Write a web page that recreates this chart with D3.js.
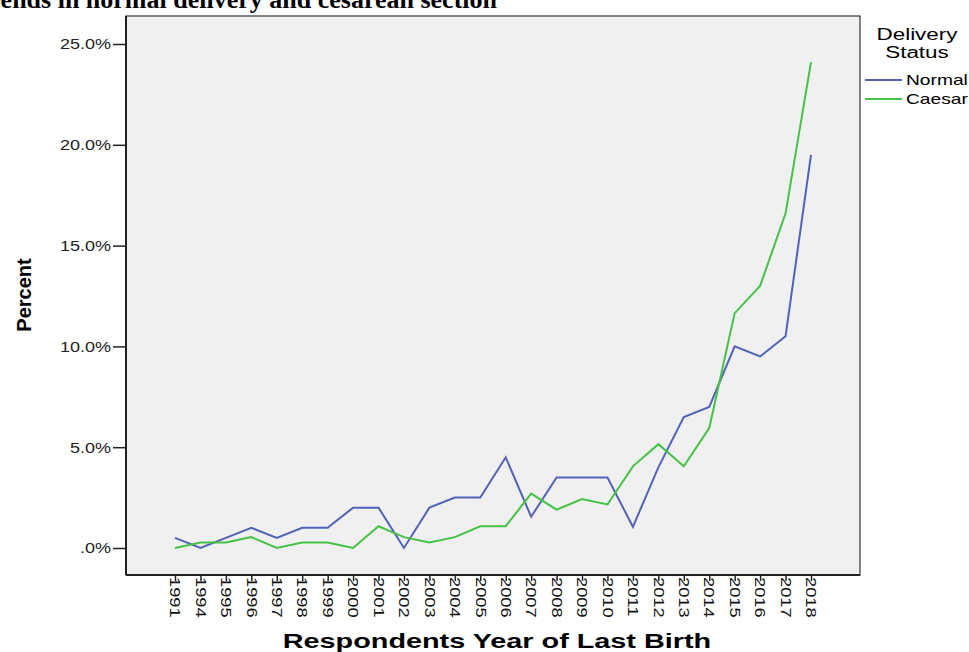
<!DOCTYPE html>
<html>
<head>
<meta charset="utf-8">
<script src="https://cdn.jsdelivr.net/npm/d3@7"></script>
<style>
  body { margin: 0; background: #fff; overflow: hidden; }
  svg { display: block; }
</style>
</head>
<body>
<div id="chart"></div>
<script>
// 데이터
const years = ["1991", "1994", "1995", "1996", "1997", "1998", "1999", "2000", "2001", "2002",
  "2003", "2004", "2005", "2006", "2007", "2008", "2009", "2010", "2011", "2012",
  "2013", "2014", "2015", "2016", "2017", "2018"];
const normal = [0.5, 0.0, 0.5, 1.0, 0.5, 1.0, 1.0, 2.0, 2.0, 0.0,
  2.0, 2.5, 2.5, 4.5, 1.55, 3.5, 3.5, 3.5, 1.05, 4.0,
  6.5, 7.0, 10.0, 9.5, 10.5, 19.5];
const caesar = [0.0, 0.27, 0.27, 0.54, 0.0, 0.27, 0.27, 0.0, 1.08, 0.54,
  0.27, 0.54, 1.08, 1.08, 2.7, 1.9, 2.43, 2.16, 4.05, 5.15,
  4.05, 5.95, 11.65, 13.0, 16.6, 24.1];
const yTicks = [0, 5, 10, 15, 20, 25];
const seriesNames = ["Normal", "Caesar"];
const seriesColors = ["#5262b8", "#45c245"];

const width = 969, height = 652;
const frame = { left: 126, top: 16, right: 860, bottom: 575 };
const sans = "'Liberation Sans', Arial, sans-serif";

const svg = d3.select("#chart").append("svg")
    .attr("width", width)
    .attr("height", height);

// SPSS 글꼴처럼 가로로 늘리기
function stretch(sel, factor) {
    sel.each(function() {
        const w = this.getComputedTextLength();
        d3.select(this)
            .attr("textLength", w * factor)
            .attr("lengthAdjust", "spacingAndGlyphs");
    });
}

// 제목 (위쪽이 잘려 있음)
svg.append("text")
    .attr("x", 497)
    .attr("y", 8)
    .attr("text-anchor", "end")
    .style("font-family", "'Liberation Serif', 'Times New Roman', serif")
    .style("font-weight", "bold")
    .style("font-size", "26px")
    .text("Trends in normal delivery and cesarean section");

// 플롯 영역
svg.append("rect")
    .attr("x", frame.left)
    .attr("y", frame.top)
    .attr("width", frame.right - frame.left)
    .attr("height", frame.bottom - frame.top)
    .attr("fill", "#f0f0f0")
    .attr("stroke", "#333")
    .attr("stroke-width", 1.2);

const x = d3.scalePoint()
    .domain(years)
    .range([175, 811]);

const y = d3.scaleLinear()
    .domain([0, 25])
    .range([548, 44]);

// y축
const yAxis = svg.append("g")
    .attr("transform", `translate(${frame.left},0)`)
    .call(d3.axisLeft(y).tickValues(yTicks).tickSize(13).tickPadding(2)
        .tickFormat(d => d === 0 ? ".0%" : d.toFixed(1) + "%"));
yAxis.select(".domain").attr("stroke", "#222").attr("stroke-width", 2)
    .attr("d", `M0,${frame.top}V${frame.bottom}`);
yAxis.selectAll(".tick line").attr("stroke", "#222").attr("stroke-width", 1.5);
yAxis.selectAll(".tick text")
    .style("font-family", sans)
    .style("font-size", "15px")
    .attr("fill", "#222")
    .call(stretch, 1.2);

// x축
const xAxis = svg.append("g")
    .attr("transform", `translate(0,${frame.bottom})`)
    .call(d3.axisBottom(x).tickSize(6).tickPadding(3));
xAxis.select(".domain").attr("stroke", "#222").attr("stroke-width", 2)
    .attr("d", `M${frame.left},0H${frame.right}`);
xAxis.selectAll(".tick line").attr("stroke", "#222").attr("stroke-width", 1.5);
xAxis.selectAll(".tick text")
    .attr("transform", "rotate(90)")
    .attr("x", 2)
    .attr("y", 0)
    .attr("dy", "0.35em")
    .attr("text-anchor", "start")
    .attr("fill", "#111")
    .style("font-family", sans)
    .style("font-size", "15px")
    .call(stretch, 1.22);

// 선
const series = [normal, caesar];
const line = d3.line()
    .x((d, i) => x(years[i]))
    .y(d => y(d));

svg.append("g")
    .selectAll("path")
    .data(series)
    .enter().append("path")
    .attr("d", line)
    .attr("fill", "none")
    .attr("stroke", (d, i) => seriesColors[i])
    .attr("stroke-width", 2)
    .attr("stroke-linejoin", "miter");

// 축 제목
svg.append("text")
    .attr("transform", "translate(31,295) rotate(-90)")
    .attr("text-anchor", "middle")
    .style("font-family", sans)
    .style("font-weight", "bold")
    .style("font-size", "20px")
    .text("Percent");

svg.append("text")
    .attr("x", 497)
    .attr("y", 648)
    .attr("text-anchor", "middle")
    .style("font-family", sans)
    .style("font-weight", "bold")
    .style("font-size", "20px")
    .text("Respondents Year of Last Birth")
    .call(stretch, 1.44);

// 범례
const legend = svg.append("g");
legend.selectAll("text.title")
    .data(["Delivery", "Status"])
    .enter().append("text")
    .attr("class", "title")
    .attr("x", 917)
    .attr("y", (d, i) => 40 + i * 18)
    .attr("text-anchor", "middle")
    .style("font-family", sans)
    .style("font-size", "16px")
    .text(d => d)
    .call(stretch, 1.4);

const item = legend.selectAll("g.item")
    .data(seriesNames)
    .enter().append("g")
    .attr("class", "item")
    .attr("transform", (d, i) => `translate(865,${80 + i * 19})`);
item.append("line")
    .attr("x1", 0).attr("x2", 37)
    .attr("stroke", (d, i) => seriesColors[i])
    .attr("stroke-width", 2);
item.append("text")
    .attr("x", 41)
    .attr("dy", "0.35em")
    .style("font-family", sans)
    .style("font-size", "15px")
    .text(d => d)
    .call(stretch, 1.28);
</script>
</body>
</html>
